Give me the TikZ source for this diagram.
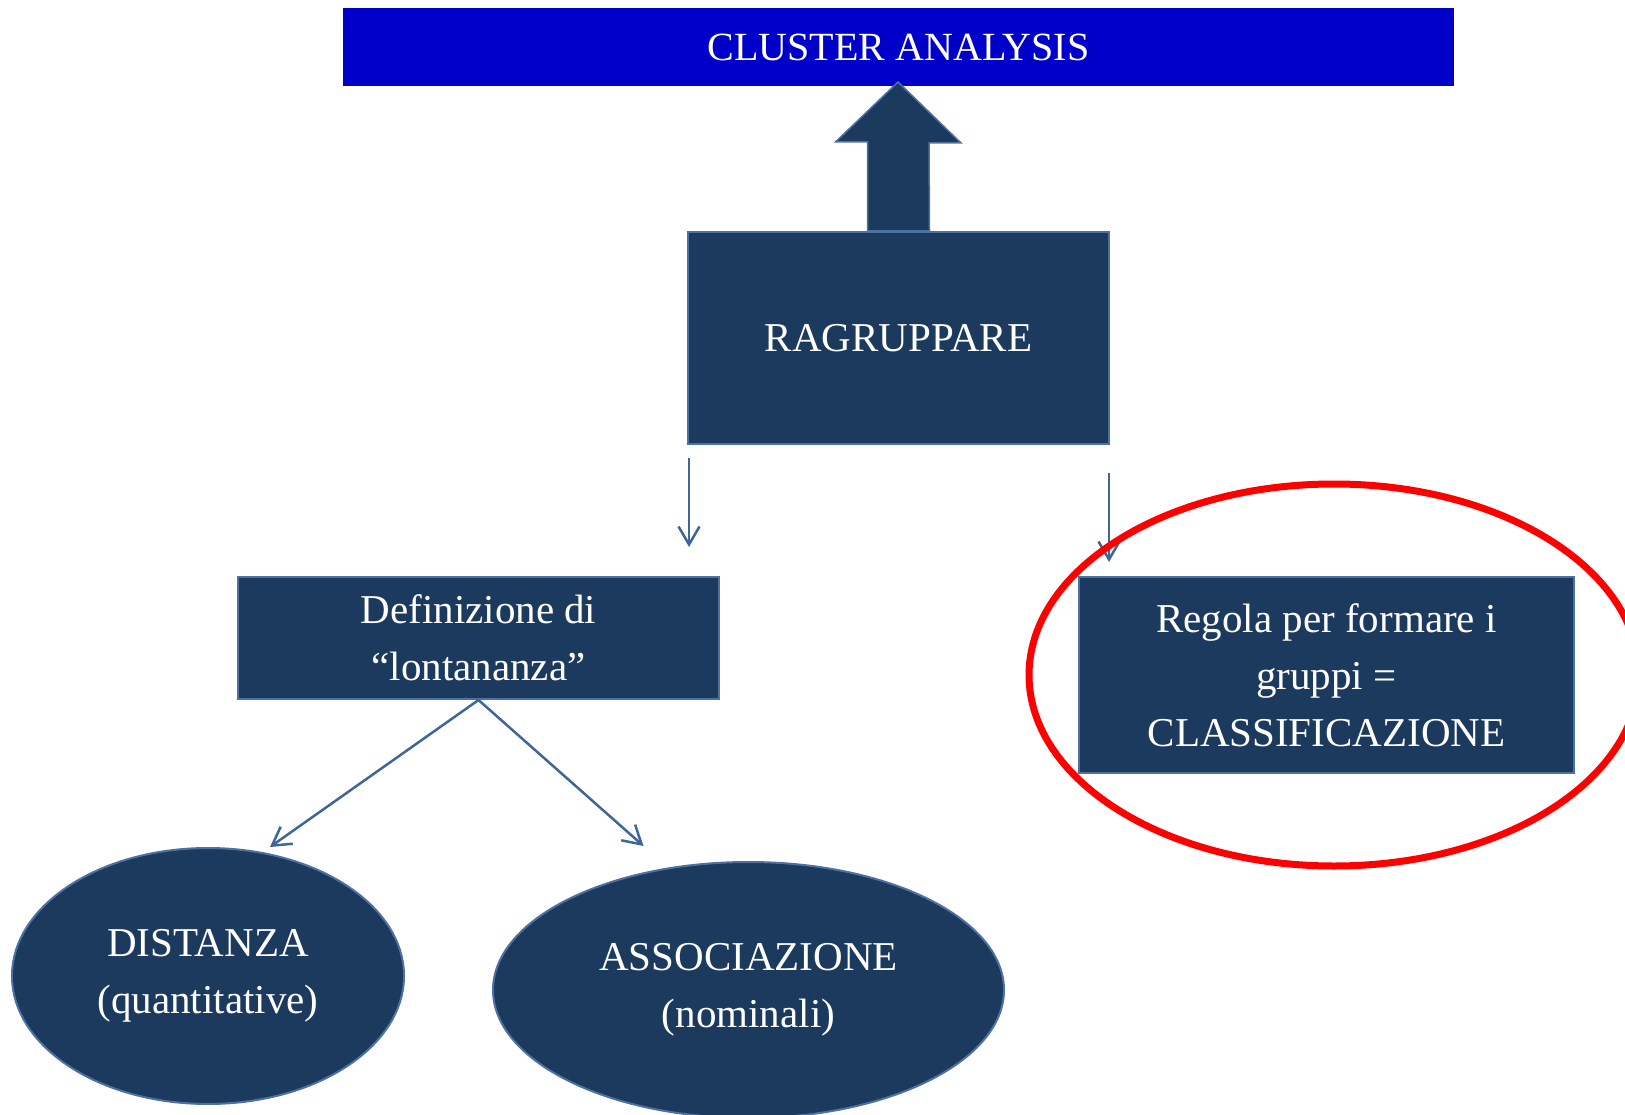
\documentclass[tikz,border=0pt]{standalone}
\usepackage{fontspec}
\setmainfont{Liberation Serif}
\usetikzlibrary{arrows.meta,positioning,shapes.geometric}
\definecolor{cabar}{RGB}{0,0,200}
\definecolor{canavy}{RGB}{27,58,94}
\definecolor{caedge}{RGB}{79,113,160}
\definecolor{caline}{RGB}{63,101,153}
\definecolor{cared}{RGB}{255,0,0}

\begin{document}
\begin{tikzpicture}[x=1pt,y=-1pt,
  bluebox/.style={draw=caedge, line width=2pt, fill=canavy, text=white,
    align=center, inner sep=0pt, font=\fontsize{41}{57}\selectfont},
  bluebubble/.style={bluebox, ellipse},
  link/.style={caline, line width=2.5pt, -{Straight Barb[length=18pt,width=21pt]}}]
\useasboundingbox (0,0) rectangle (1625,1115);
% Title bar
\node[fill=cabar, text=white, minimum width=1111pt, minimum height=78pt,
  inner sep=0pt, font=\fontsize{40}{57}\selectfont] (title) at (898.5,47) {CLUSTER ANALYSIS};
% Main box
\node[bluebox, minimum width=421pt, minimum height=212pt] (rag) at (898.5,338) {RAGRUPPARE};
% Block arrow up to the title
\filldraw[canavy, draw=caedge, line width=1.5pt]
  ([xshift=-31pt]rag.north) -- ++(0,-89) -- ++(-32,0) -- (898,82)
  -- ++(63,61) -- ++(-32,0) -- ([xshift=31pt]rag.north) -- cycle;
% Second level
\node[bluebox, minimum width=481pt, minimum height=122pt] (def) at (478.5,638)
  {Definizione di\\“lontananza”};
\node[bluebox, minimum width=495pt, minimum height=196pt] (reg) at (1326.5,675)
  {Regola per formare i\\gruppi =\\CLASSIFICAZIONE};
% Third level
\node[bluebubble, minimum width=392pt, minimum height=256pt] (dist) at (208,976)
  {DISTANZA\\(quantitative)};
\node[bluebubble, minimum width=511pt, minimum height=256pt] (asso) at (748.5,990)
  {ASSOCIAZIONE\\(nominali)};
% Connectors
\coordinate (s1) at (689,458);
\coordinate (e1) at (689,547);
\coordinate (s2) at (1109,473);
\coordinate (e2) at (1109,562);
\draw[link] (s1) -- (e1);
\draw[link] (s2) -- (e2);
\draw[link] (def.south) -- ([xshift=62pt]dist.north);
\draw[link] (def.south) -- ([xshift=-105pt,yshift=15pt]asso.north);
% Red mark round the rule
\draw[cared, line width=7pt] (1334,675) ellipse [x radius=305, y radius=191];
\end{tikzpicture}
\end{document}
